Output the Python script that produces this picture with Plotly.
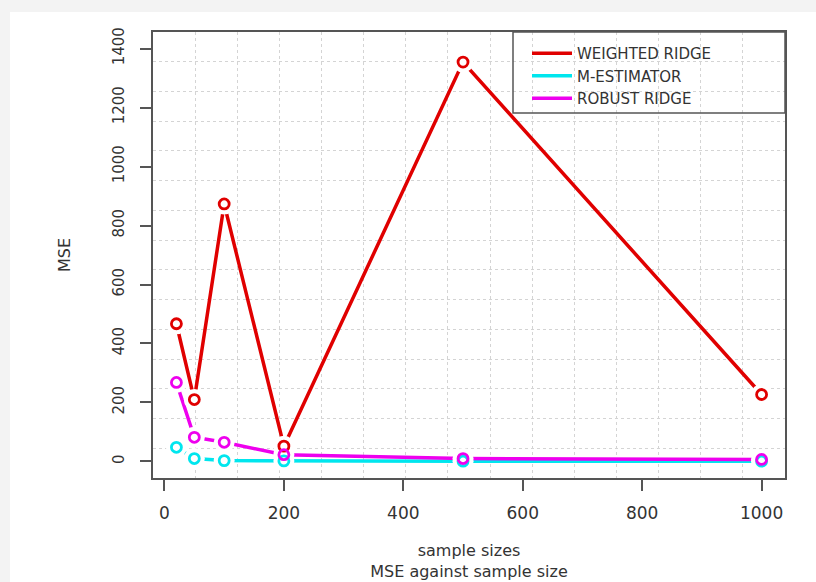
import plotly.graph_objects as go

# ---- data ----
sample_sizes = [20, 50, 100, 200, 500, 1000]
weighted_ridge = [467, 210, 873, 52, 1354, 227]
m_estimator = [48, 10, 3, 2, 1, 1]
robust_ridge = [268, 82, 65, 23, 10, 7]
series_names = ["WEIGHTED RIDGE", "M-ESTIMATOR", "ROBUST RIDGE"]
x_ticks = [0, 200, 400, 600, 800, 1000]
y_ticks = [0, 200, 400, 600, 800, 1000, 1200, 1400]
y_limits = [0, 1400]

colors = ["#e00000", "#00e6ee", "#ee00ee"]
series = [weighted_ridge, m_estimator, robust_ridge]

# R-style 4% axis extension
xlo, xhi = min(sample_sizes), max(sample_sizes)
xpad = (xhi - xlo) * 0.04
xr = [xlo - xpad, xhi + xpad]
ypad = (y_limits[1] - y_limits[0]) * 0.04
yr = [y_limits[0] - ypad, y_limits[1] + ypad]

W, H = 816, 582
L, R, T, B = 153, 785, 32, 478
pw, ph = R - L, B - T

def px_x(p):
    return (p - L) / pw

def px_y(p):
    return (B - p) / ph

fig = go.Figure()

for name, ys, c in zip(series_names, series, colors):
    fig.add_trace(go.Scatter(x=sample_sizes, y=ys, mode="lines", name=name,
                             line=dict(color=c, width=3.5)))
for ys in series:
    fig.add_trace(go.Scatter(x=sample_sizes, y=ys, mode="markers", showlegend=False,
                             hoverinfo="skip",
                             marker=dict(symbol="circle", size=21, color="white",
                                         line=dict(width=0))))
for name, ys, c in zip(series_names, series, colors):
    fig.add_trace(go.Scatter(x=sample_sizes, y=ys, mode="markers", showlegend=False,
                             name=name,
                             marker=dict(symbol="circle-open", size=10, color=c,
                                         line=dict(width=2.8, color=c))))

axis_common = dict(
    showgrid=False, zeroline=False,
    showline=True, mirror=True, linecolor="#555555", linewidth=1.5,
    ticks="outside", ticklen=11, tickwidth=1.5, tickcolor="#555555",
)

fig.update_xaxes(
    range=xr, tickvals=x_ticks, ticktext=[str(v) for v in x_ticks],
    tickfont=dict(family="DejaVu Sans", size=17, color="#333333"),
    ticklabelstandoff=8,
    minor=dict(tick0=xr[0], dtick=(xr[1] - xr[0]) / 15, showgrid=True,
               gridcolor="#d4d4d4", griddash="dot", gridwidth=1, ticks=""),
    title=dict(text="sample sizes<br>MSE against sample size",
               font=dict(family="DejaVu Sans", size=16, color="#333333"),
               standoff=23),
    **axis_common,
)
fig.update_yaxes(
    range=yr, tickvals=y_ticks, ticktext=[str(v) for v in y_ticks],
    tickangle=-90,
    tickfont=dict(family="DejaVu Sans", size=15, color="#333333"),
    ticklabelstandoff=10,
    minor=dict(tick0=yr[0], dtick=(yr[1] - yr[0]) / 15, showgrid=True,
               gridcolor="#d4d4d4", griddash="dot", gridwidth=1, ticks=""),
    title=dict(text="MSE", font=dict(family="DejaVu Sans", size=16, color="#333333"),
               standoff=36),
    **axis_common,
)

shapes = [
    # white page on light-gray border
    dict(type="rect", xref="paper", yref="paper", layer="below",
         x0=px_x(10), x1=px_x(W + 5), y0=px_y(H + 5), y1=px_y(12),
         fillcolor="white", line=dict(width=0)),
    # legend box
    dict(type="rect", xref="paper", yref="paper",
         x0=px_x(513), x1=1, y0=px_y(113), y1=1,
         fillcolor="rgba(0,0,0,0)", line=dict(color="#555555", width=1.5)),
]

fig.update_layout(
    width=W, height=H,
    margin=dict(l=L, r=W - R, t=T, b=H - B, autoexpand=False),
    paper_bgcolor="#f3f3f3", plot_bgcolor="white",
    shapes=shapes,
    showlegend=True,
    legend=dict(x=px_x(527), y=px_y(37), xanchor="left", yanchor="top",
                bgcolor="rgba(0,0,0,0)", borderwidth=0, itemwidth=40,
                font=dict(family="DejaVu Sans", size=15, color="#333333"),
                tracegroupgap=0),
)

fig.write_html("out.html", config={"displayModeBar": False},
               post_script="document.body.style.margin='0';document.body.style.padding='0';")
